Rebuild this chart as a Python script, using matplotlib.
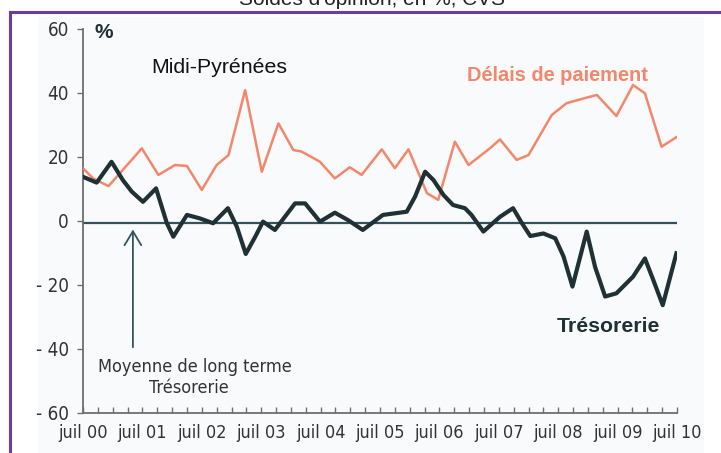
import matplotlib.pyplot as plt
from matplotlib.patches import Rectangle

# years elapsed since juil 00, values in % (soldes d'opinion, CVS)
treso_t = [0.00, 0.23, 0.48, 0.67, 0.82, 1.01, 1.23, 1.41, 1.52, 1.75, 1.97,
           2.19, 2.44, 2.59, 2.74, 2.90, 3.03, 3.23, 3.57, 3.74, 3.99, 4.24,
           4.46, 4.71, 5.05, 5.25, 5.45, 5.59, 5.76, 5.90, 6.07, 6.23, 6.43,
           6.54, 6.74, 7.02, 7.24, 7.39, 7.53, 7.75, 7.95, 8.09, 8.24, 8.48,
           8.62, 8.79, 8.98, 9.26, 9.46, 9.60, 9.76, 9.99]
treso_v = [13.8, 12.0, 18.5, 12.8, 9.2, 6.0, 10.2, -0.6, -4.9, 1.9, 0.8,
           -0.7, 4.0, -1.8, -10.3, -4.9, -0.2, -2.8, 5.5, 5.5, -0.2, 2.6,
           0.3, -2.8, 1.9, 2.4, 2.9, 7.6, 15.4, 12.8, 8.1, 5.0, 4.0,
           1.9, -3.3, 1.3, 4.0, -0.7, -4.7, -3.9, -5.4, -11.1, -20.5, -3.3,
           -14.3, -23.6, -22.6, -17.4, -11.7, -18.4, -26.3, -10.1]

delais_t = [0.00, 0.17, 0.43, 0.99, 1.27, 1.55, 1.75, 2.00, 2.25, 2.45, 2.73,
            3.01, 3.29, 3.54, 3.68, 3.99, 4.24, 4.49, 4.69, 5.03, 5.25, 5.48,
            5.79, 5.98, 6.26, 6.49, 6.85, 7.02, 7.30, 7.50, 7.89, 8.14, 8.37,
            8.65, 8.98, 9.26, 9.46, 9.74, 9.99]
delais_v = [16.5, 13.3, 10.9, 22.7, 14.4, 17.5, 17.2, 9.7, 17.5, 20.6, 40.9,
            15.4, 30.5, 22.2, 21.7, 18.5, 13.3, 16.8, 14.4, 22.4, 16.5, 22.4,
            8.7, 6.6, 24.8, 17.5, 22.7, 25.5, 19.1, 20.6, 33.1, 36.8, 38.0,
            39.4, 32.8, 42.5, 39.9, 23.2, 26.2]

moyenne_lt = -0.5
x_labels = ["juil 00", "juil 01", "juil 02", "juil 03", "juil 04", "juil 05",
            "juil 06", "juil 07", "juil 08", "juil 09", "juil 10"]
y_ticks = [-60, -40, -20, 0, 20, 40, 60]

SANS = ["Liberation Sans", "DejaVu Sans"]
COND = dict(family=["DejaVu Sans"], fontstretch="condensed")
RED = "#F2876B"
DARK = "#1F3134"
TEAL = "#35525A"

fig = plt.figure(figsize=(7.21, 4.53), dpi=100)
fig.patch.set_facecolor("white")

# light panel + purple frame
fig.patches.append(Rectangle((38 / 721, 0), 666 / 721, 436 / 453, transform=fig.transFigure,
                             facecolor="#F9FAFC", edgecolor="none", zorder=-5))
fig.add_artist(plt.Line2D([10 / 721, 10 / 721], [0, 441.5 / 453], color="#6A3D9E", lw=2.2,
                          transform=fig.transFigure))
fig.add_artist(plt.Line2D([10 / 721, 1], [441.5 / 453, 441.5 / 453], color="#6A3D9E", lw=2.2,
                          transform=fig.transFigure))
fig.text(372 / 721, 448 / 453, "Soldes d'opinion, en %, CVS", ha="center", va="baseline",
         fontsize=15, family=SANS, color="#222222")

ax = fig.add_axes([83 / 721, 40 / 453, 594 / 721, 384 / 453])
ax.set_zorder(2)
ax.set_facecolor("none")
ax.set_xlim(0, 10)
ax.set_ylim(-60, 60)

ax.axhline(moyenne_lt, color=TEAL, lw=1.6, zorder=2)
ax.plot(delais_t, delais_v, color=RED, lw=1.8, zorder=3)
ax.plot(treso_t, treso_v, color=DARK, lw=3.0, zorder=4, solid_joinstyle="round")

for s in ["top", "right"]:
    ax.spines[s].set_visible(False)
for s in ["left", "bottom"]:
    ax.spines[s].set_color("#6E6E6E")
    ax.spines[s].set_linewidth(1.3)

ax.set_yticks(y_ticks)
ax.set_yticklabels([f"- {abs(v)}" if v < 0 else str(v) for v in y_ticks],
                   fontsize=13.5, color="#333333", **COND)
ax.tick_params(axis="y", direction="out", length=4, width=1, color="#6E6E6E", pad=6)

ax.set_xticks(range(len(x_labels)))
ax.set_xticklabels(x_labels, fontsize=13, color="#333333", **COND)
ax.set_xticks([q / 4 for q in range(41)], minor=True)
ax.tick_params(axis="x", which="both", direction="in", length=4, width=1,
               color="#6E6E6E", pad=8)

ax.text(0.2, 59.0, "%", fontsize=15, fontweight="bold", family=SANS, color=DARK,
        ha="left", va="center")
ax.text(2.29, 48.1, "Midi-Pyrénées", fontsize=15.3, family=SANS, color="#111111",
        ha="center", va="center")
ax.text(7.99, 45.5, "Délais de paiement", fontsize=14.4, fontweight="bold", family=SANS,
        color=RED, ha="center", va="center")
ax.text(8.84, -33.0, "Trésorerie", fontsize=15.3, fontweight="bold", family=SANS,
        color=DARK, ha="center", va="center")

ax.annotate("", xy=(0.84, -1.8), xytext=(0.84, -40.3),
            arrowprops=dict(arrowstyle="->,head_length=1.0,head_width=0.6", color=TEAL, lw=1.3))
ax.text(1.89, -45.6, "Moyenne de long terme", fontsize=13, color="#333333",
        ha="center", va="center", **COND)
ax.text(1.78, -52.2, "Trésorerie", fontsize=13, color="#333333",
        ha="center", va="center", **COND)

fig.savefig("out.png", dpi=100)
